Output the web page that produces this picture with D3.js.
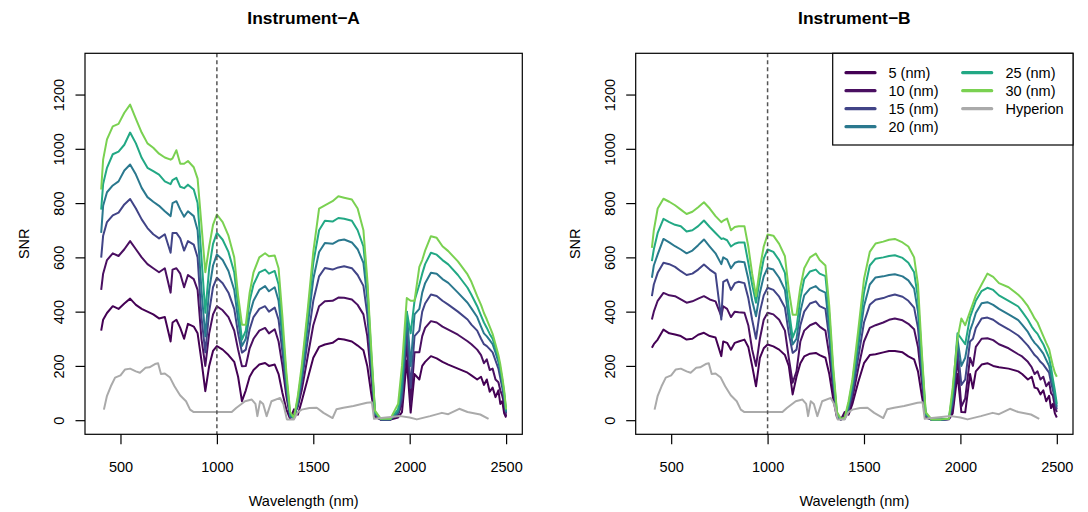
<!DOCTYPE html>
<html>
<head>
<meta charset="utf-8">
<script src="https://cdn.jsdelivr.net/npm/d3@7"></script>
<style>
  html, body { margin: 0; padding: 0; background: #ffffff; }
  svg { display: block; font-family: "Liberation Sans", Arial, Helvetica, sans-serif; }
</style>
</head>
<body>
<svg id="chart" width="1088" height="512"></svg>
<script>
// ---------------- DATA ----------------
const wavelengths = [400,410,430,460,490,520,550,580,610,640,
  670,700,730,760,770,790,810,830,850,880,
  900,920,940,960,980,1000,1030,1060,1090,1110,
  1130,1150,1170,1190,1220,1250,1270,1300,1320,1340,
  1360,1380,1400,1420,1440,1470,1500,1530,1560,1600,
  1630,1660,1700,1730,1760,1780,1800,1820,1850,1900,
  1940,1960,1985,2005,2025,2050,2065,2080,2110,2140,
  2170,2200,2250,2300,2320,2350,2370,2385,2400,2415,
  2430,2445,2460,2470,2480,2490,2500];

const seriesLabels = ["5 (nm)", "10 (nm)", "15 (nm)", "20 (nm)", "25 (nm)", "30 (nm)"];
const seriesColors = ["#440154", "#4a0f61", "#414487", "#2a788e", "#22a884", "#7ad151"];
const hyperionLabel = "Hyperion";
const hyperionColor = "#aaaaaa";

// Instrument-A
const snrA5 = [330,370,395,420,410,430,448,425,410,400,
  390,375,380,290,360,370,340,300,355,345,
  320,220,107,200,255,273,260,240,215,160,
  70,110,160,185,205,211,200,205,170,100,
  40,5,40,20,70,150,230,270,279,285,
  300,297,290,275,258,200,100,12,2,2,
  10,30,220,28,170,150,200,215,236,228,
  215,205,190,175,165,150,160,130,150,105,
  120,85,110,60,70,25,10];
const snrA10 = [480,540,590,615,605,630,660,630,600,575,
  560,545,560,470,555,560,540,490,535,520,
  480,300,200,320,390,420,405,380,330,260,
  199,200,265,300,330,340,320,335,290,200,
  90,10,20,50,110,230,350,420,438,440,
  452,451,445,425,390,310,160,18,2,2,
  20,60,290,60,250,250,310,340,365,360,
  345,334,315,291,280,260,240,210,224,185,
  190,150,140,110,90,60,15];
const snrA15 = [599,680,730,755,765,795,815,780,740,708,
  685,670,685,617,690,690,670,625,660,647,
  600,380,250,400,490,525,505,470,410,320,
  249,260,335,380,410,420,400,415,370,250,
  120,12,10,60,140,290,440,530,561,555,
  563,567,560,535,495,390,200,22,3,3,
  25,80,340,120,310,330,400,430,463,458,
  440,426,400,371,352,330,300,280,273,262,
  250,220,190,155,120,80,25];
const snrA20 = [690,790,840,865,880,920,942,905,856,822,
  805,790,770,752,800,807,776,750,770,752,
  700,480,309,480,570,611,590,550,480,370,
  273,300,390,440,480,494,475,490,440,300,
  140,15,8,70,160,340,520,620,653,650,
  662,666,655,630,580,450,230,25,3,3,
  30,110,400,200,390,410,470,505,543,540,
  520,506,470,433,412,380,345,320,309,295,
  280,250,215,180,140,90,30];
const snrA25 = [776,870,930,980,990,1015,1060,1020,967,930,
  918,905,880,870,885,893,860,855,868,850,
  800,600,396,560,650,690,665,620,545,420,
  297,330,440,500,545,555,540,550,500,340,
  160,20,8,80,180,380,580,700,735,732,
  745,742,735,700,640,500,250,30,4,4,
  40,150,400,320,440,500,540,575,617,610,
  590,574,535,488,462,420,385,360,340,318,
  300,265,230,190,150,100,35];
const snrA30 = [850,960,1035,1083,1092,1133,1163,1110,1060,1020,
  1004,982,968,960,965,995,945,945,955,932,
  890,720,545,640,720,758,730,680,600,460,
  352,352,470,545,600,615,604,607,560,380,
  180,30,8,90,200,400,620,780,792,807,
  825,820,813,780,700,520,270,35,5,5,
  60,200,450,440,440,565,590,625,678,672,
  641,623,585,537,510,457,425,395,371,345,
  318,280,240,205,160,110,40];

// Instrument-B
const snrB5 = [267,280,297,334,320,316,310,297,300,315,
  322,310,305,236,290,285,260,285,290,297,
  270,200,125,230,265,279,272,260,240,200,
  95,160,210,235,245,248,240,230,170,80,
  10,2,30,20,60,140,210,240,243,250,
  255,255,250,235,224,180,90,10,2,2,
  3,25,170,30,29,170,117,180,205,210,
  200,195,190,180,170,150,160,120,117,95,
  110,70,90,45,60,25,10];
const snrB10 = [371,400,440,469,460,457,445,433,438,448,
  457,445,438,383,420,410,380,400,398,396,
  350,260,200,300,370,396,390,370,330,230,
  138,180,290,330,350,359,345,330,240,110,
  15,3,20,30,80,190,290,340,350,360,
  370,375,368,355,335,270,140,15,2,2,
  4,40,230,50,80,230,200,270,300,302,
  295,280,265,243,235,215,195,170,180,150,
  160,125,140,100,90,50,30];
const snrB15 = [457,500,543,580,575,565,549,535,540,555,
  574,555,540,371,510,518,480,505,510,505,
  450,370,300,400,460,488,480,455,415,320,
  248,260,350,400,430,438,420,410,300,140,
  18,3,6,40,100,230,360,425,444,450,
  458,463,455,440,415,340,170,18,2,2,
  4,60,270,130,150,290,300,340,375,378,
  370,355,335,312,298,275,255,240,230,215,
  205,190,175,140,110,75,40];
const snrB20 = [525,570,611,668,655,641,629,615,625,645,
  666,640,615,575,600,592,560,580,585,582,
  520,440,383,470,530,561,555,525,480,370,
  279,300,400,460,485,494,480,470,340,160,
  20,3,6,50,120,270,420,500,526,530,
  535,538,530,515,485,400,200,20,2,2,
  4,80,300,200,230,330,360,395,431,435,
  425,410,390,369,352,325,300,285,274,260,
  245,222,200,165,130,90,50];
const snrB25 = [586,630,690,742,730,720,715,695,700,715,
  736,712,690,668,670,663,640,650,655,655,
  580,500,433,520,595,629,620,590,543,410,
  304,340,450,520,548,555,540,531,390,180,
  25,4,8,60,140,300,470,570,595,600,
  605,608,598,580,545,450,230,25,3,3,
  5,100,320,300,280,380,410,440,476,488,
  480,460,440,419,400,370,345,330,318,298,
  280,255,230,195,150,110,60];
const snrB30 = [635,700,780,816,805,792,776,760,768,785,
  803,780,752,730,735,743,700,712,715,715,
  640,540,457,560,640,684,680,650,604,480,
  389,389,490,560,600,614,590,570,420,200,
  30,5,10,70,150,330,520,620,651,658,
  665,668,655,640,600,500,250,30,3,3,
  5,120,300,375,350,400,430,460,500,540,
  528,505,490,462,448,420,395,375,360,335,
  310,285,262,230,200,175,160];

// Hyperion reference
const hypWavelengths = [414,430,450,472,500,524,550,580,601,630,
  650,679,695,710,730,757,780,809,840,861,
  880,1077,1100,1146,1181,1200,1210,1224,1240,1258,
  1283,1328,1345,1363,1400,1420,1440,1480,1518,1553,
  1600,1620,1656,1708,1778,1804,1815,1951,2000,2037,
  2106,2167,2200,2257,2300,2366,2409];
const hypSNR = [39,90,125,157,165,187,190,180,175,193,
  195,207,210,170,172,157,125,92,70,39,
  30,30,45,70,76,60,15,70,60,15,
  70,82,60,3,3,30,39,45,46,27,
  8,40,46,52,64,66,5,15,10,3,
  15,27,22,42,30,21,5];

const xTicks = [500, 1000, 1500, 2000, 2500];
const yTicks = [0, 200, 400, 600, 800, 1000, 1200];
const panelTitles = ["Instrument\u2212A", "Instrument\u2212B"];
const xLabel = "Wavelength (nm)";
const yLabel = "SNR";
const refLine = 1000;

// ---------------- DRAW ----------------
const svg = d3.select("#chart");
svg.append("rect").attr("width", 1088).attr("height", 512).attr("fill", "#fff");

const FS = 14.5;
const panels = [
  { dx: 0, title: panelTitles[0], data: [snrA5, snrA10, snrA15, snrA20, snrA25, snrA30], legend: false },
  { dx: 550.7, title: panelTitles[1], data: [snrB5, snrB10, snrB15, snrB20, snrB25, snrB30], legend: true }
];

panels.forEach(p => {
  const left = 85 + p.dx, right = 522.3 + p.dx, top = 53.3, bottom = 434.3;
  const x = d3.scaleLinear().domain([316, 2584]).range([left, right]);
  const y = d3.scaleLinear().domain([-52, 1352]).range([bottom, top]);
  const g = svg.append("g");

  const line = d3.line().x(d => x(d[0])).y(d => y(d[1]));

  // series
  p.data.forEach((vals, i) => {
    const pts = wavelengths.map((w, k) => [w, vals[k]]);
    g.append("path").datum(pts).attr("d", line)
      .attr("fill", "none").attr("stroke", seriesColors[i])
      .attr("stroke-width", 2).attr("stroke-linejoin", "round");
  });
  // hyperion
  const hp = hypWavelengths.map((w, k) => [w, hypSNR[k]]);
  g.append("path").datum(hp).attr("d", line)
    .attr("fill", "none").attr("stroke", hyperionColor)
    .attr("stroke-width", 2).attr("stroke-linejoin", "round");

  // dashed reference line
  g.append("line").attr("x1", x(refLine)).attr("x2", x(refLine))
    .attr("y1", top).attr("y2", bottom)
    .attr("stroke", "#555").attr("stroke-width", 1.5).attr("stroke-dasharray", "4,3");

  // box
  g.append("rect").attr("x", left).attr("y", top).attr("width", right - left).attr("height", bottom - top)
    .attr("fill", "none").attr("stroke", "#000").attr("stroke-width", 1.2);

  // x axis
  const xa = g.append("g").attr("transform", `translate(0,${bottom})`)
    .call(d3.axisBottom(x).tickValues(xTicks).tickSize(10).tickPadding(0).tickFormat(d3.format("d")));
  xa.select(".domain").remove();
  xa.selectAll(".tick line").attr("stroke", "#000").attr("stroke-width", 1.2);
  xa.selectAll(".tick text").attr("y", 38).attr("dy", null)
    .attr("font-size", FS).attr("fill", "#000").attr("font-family", "Liberation Sans, Arial, sans-serif");

  // y axis
  const ya = g.append("g").attr("transform", `translate(${left},0)`)
    .call(d3.axisLeft(y).tickValues(yTicks).tickSize(9.5).tickFormat(d3.format("d")));
  ya.select(".domain").remove();
  ya.selectAll(".tick line").attr("stroke", "#000").attr("stroke-width", 1.2);
  ya.selectAll(".tick text")
    .attr("x", null).attr("dy", null)
    .attr("transform", `translate(-21,0) rotate(-90)`)
    .attr("text-anchor", "middle")
    .attr("font-size", FS).attr("fill", "#000").attr("font-family", "Liberation Sans, Arial, sans-serif");

  // titles
  g.append("text").attr("x", (left + right) / 2).attr("y", 24)
    .attr("text-anchor", "middle").attr("font-weight", "bold").attr("font-size", 17.4)
    .text(p.title);
  g.append("text").attr("x", (left + right) / 2).attr("y", 506)
    .attr("text-anchor", "middle").attr("font-size", FS).text(xLabel);
  g.append("text").attr("transform", `translate(${left - 56},${(top + bottom) / 2}) rotate(-90)`)
    .attr("text-anchor", "middle").attr("font-size", FS).text(yLabel);

  // legend
  if (p.legend) {
    const lx0 = 832.7, ly0 = top, lx1 = right, ly1 = 145;
    const lg = svg.append("g");
    lg.append("rect").attr("x", lx0).attr("y", ly0).attr("width", lx1 - lx0).attr("height", ly1 - ly0)
      .attr("fill", "#fff").attr("stroke", "#000").attr("stroke-width", 1.2);
    const items = seriesLabels.map((l, i) => ({ label: l, color: seriesColors[i] }))
      .concat([{ label: hyperionLabel, color: hyperionColor }]);
    items.forEach((it, i) => {
      const col = i < 4 ? 0 : 1;
      const row = i < 4 ? i : i - 4;
      const yy = 72.7 + row * 18;
      const xs = col === 0 ? 846 : 962.7;
      lg.append("line").attr("x1", xs).attr("x2", xs + 29).attr("y1", yy).attr("y2", yy)
        .attr("stroke", it.color).attr("stroke-width", 3.2).attr("stroke-linecap", "round");
      lg.append("text").attr("x", col === 0 ? 888.5 : 1005.5).attr("y", yy + 5.2)
        .attr("font-size", FS).text(it.label);
    });
  }
});
</script>
</body>
</html>
